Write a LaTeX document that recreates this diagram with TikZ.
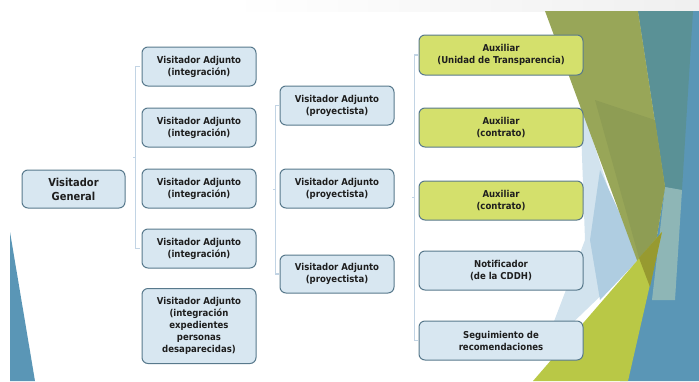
\documentclass[tikz,border=0pt]{standalone}
\usepackage{fontspec}
\setmainfont{DejaVu Sans Condensed}[Ligatures=NoCommon]
\usetikzlibrary{calc}
\definecolor{boxfill}{HTML}{D8E7F1}
\definecolor{boxline}{HTML}{58798C}
\definecolor{greenfill}{HTML}{D4E06C}
\definecolor{connc}{HTML}{C2D4E4}
\definecolor{textc}{HTML}{1E1E1E}
\definecolor{olive}{HTML}{98A658}
\definecolor{darkolive}{HTML}{8E9D54}
\definecolor{teal}{HTML}{5A9196}
\definecolor{bluebg}{HTML}{5A96B6}
\definecolor{ygreen}{HTML}{B9C846}
\definecolor{overlapc}{HTML}{979A30}
\definecolor{lblue}{HTML}{AFCDE1}
\definecolor{pblue}{HTML}{D2E3EE}
\definecolor{pstrip}{HTML}{9CBFB6}
\begin{document}
\begin{tikzpicture}[x=1pt,y=-1pt,
  box/.style={draw=boxline, line width=1pt, fill=boxfill, rounded corners=6pt,
    align=center, font=\bfseries\fontsize{9.5}{12}\selectfont, text=textc, inner sep=0pt},
  gbox/.style={box, fill=greenfill},
  conn/.style={draw=connc, line width=1.3pt}]
\useasboundingbox (0,0) rectangle (699,381);
% background decoration
\shade[left color=white, right color=black!6] (230,0) rectangle (699,11);
\fill[bluebg] (638,11) -- (699,11) -- (699,381) -- (620,381) -- (648,290) -- (665,187) -- cycle;
\fill[teal] (638,11) -- (693,11) -- (682,190) -- (665,187) -- cycle;
\fill[pstrip, opacity=0.8] (665,187) -- (682,190) -- (675,300) -- (652,300) -- cycle;
\fill[pblue] (580,100) -- (612,200) -- (640,258) -- (560,335) -- (545,345) -- (585,240) -- cycle;
\fill[lblue] (600,170) -- (625,225) -- (640,258) -- (600,300) -- (590,240) -- cycle;
\fill[olive] (545,11) -- (638,11) -- (665,187) -- (648,290) -- cycle;
\fill[darkolive] (595,100) -- (655,120) -- (665,187) -- (648,290) -- cycle;
\fill[ygreen] (533,381) -- (662,232) -- (628,381) -- cycle;
\fill[overlapc] (639,258) -- (662,232) -- (650,287) -- cycle;
\fill[bluebg] (10,232) -- (35,381) -- (10,381) -- cycle;
% nodes
\node[box, minimum width=103pt, minimum height=38pt, font=\bfseries\fontsize{11}{14}\selectfont] (vg) at (73.5,189) {Visitador\\General};
\node[box, minimum width=114pt, minimum height=39pt] (c11) at (199,66.5) {Visitador Adjunto\\(integración)};
\node[box, minimum width=114pt, minimum height=39pt] (c12) at (199,127.5) {Visitador Adjunto\\(integración)};
\node[box, minimum width=114pt, minimum height=39pt] (c13) at (199,188.5) {Visitador Adjunto\\(integración)};
\node[box, minimum width=114pt, minimum height=39pt] (c14) at (199,248.5) {Visitador Adjunto\\(integración)};
\node[box, minimum width=114pt, minimum height=75pt] (c15) at (199,326) {Visitador Adjunto\\(integración\\expedientes\\personas\\desaparecidas)};
\node[box, minimum width=114pt, minimum height=39pt] (c21) at (337,105.5) {Visitador Adjunto\\(proyectista)};
\node[box, minimum width=114pt, minimum height=39pt] (c22) at (337,188.5) {Visitador Adjunto\\(proyectista)};
\node[box, minimum width=114pt, minimum height=38pt] (c23) at (337,274) {Visitador Adjunto\\(proyectista)};
\node[gbox, minimum width=164pt, minimum height=40pt] (c31) at (501,55) {Auxiliar\\(Unidad de Transparencia)};
\node[gbox, minimum width=164pt, minimum height=39pt] (c32) at (501,127.5) {Auxiliar\\(contrato)};
\node[gbox, minimum width=164pt, minimum height=39pt] (c33) at (501,200.5) {Auxiliar\\(contrato)};
\node[box, minimum width=164pt, minimum height=39pt] (c34) at (501,270.5) {Notificador\\(de la CDDH)};
\node[box, minimum width=164pt, minimum height=39pt] (c35) at (501,340.5) {Seguimiento de\\recomendaciones};
% connectors (brackets)
\draw[conn] ($(c11.west)+(-2,0)$) -- ++(-4,0) |- ($(c14.west)+(-2,0)$);
\draw[conn] ($(c11.west)!0.5!(c14.west)+(-6,0)$) -- ++(-3,0);
\draw[conn] ($(c21.west)+(-1,0)$) -- ++(-3,0) |- ($(c23.west)+(-1,0)$);
\draw[conn] ($(c21.west)!0.5!(c23.west)+(-4,0)$) -- ++(-3,0);
\draw[conn] ($(c31.west)+(-1,0)$) -- ++(-3,0) |- ($(c35.west)+(-1,0)$);
\draw[conn] ($(c31.west)!0.5!(c35.west)+(-4,0)$) -- ++(-3,0);
\end{tikzpicture}
\end{document}
